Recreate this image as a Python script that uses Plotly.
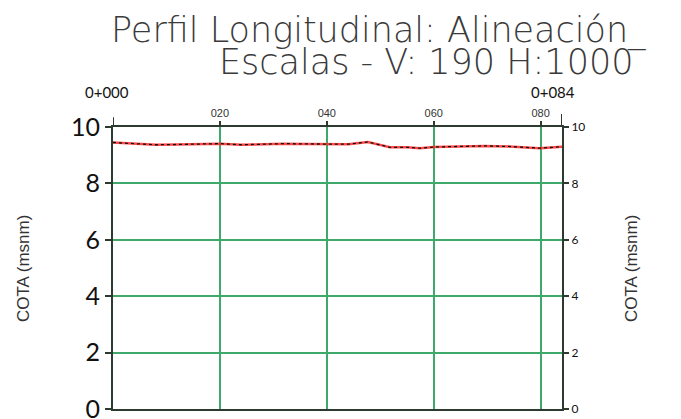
import plotly.graph_objects as go

# Data
stations = [0, 4, 8, 12, 16, 20, 24, 28, 32, 36, 40, 44, 47.7, 51.8, 55, 57.4, 60, 64, 69.5, 74, 79.8, 84]
elevations = [9.45, 9.41, 9.37, 9.38, 9.40, 9.41, 9.37, 9.39, 9.41, 9.40, 9.39, 9.39, 9.47, 9.28, 9.28, 9.25, 9.29, 9.31, 9.33, 9.31, 9.25, 9.30]

x_tick_vals = [20, 40, 60, 80]
x_tick_text = ["020", "040", "060", "080"]
y_tick_vals = [0, 2, 4, 6, 8, 10]
start_label = "0+000"
end_label = "0+084"
title_line1 = "Perfil Longitudinal: Alineación_"
title_line2 = "Escalas - V: 190 H:1000"
y_title = "COTA (msnm)"

GRID = "#3fa96c"
AXIS = "#2c3a30"

fig = go.Figure()
fig.add_trace(go.Scatter(x=stations, y=elevations, mode="lines",
                         line=dict(color="rgba(255,40,40,0.85)", width=2.5),
                         hoverinfo="skip", showlegend=False))
fig.add_trace(go.Scatter(x=stations, y=elevations, mode="lines",
                         line=dict(color="#111111", width=1.3, dash="dot"),
                         hoverinfo="skip", showlegend=False))
fig.add_trace(go.Scatter(x=stations, y=elevations, mode="lines", yaxis="y2",
                         line=dict(color="rgba(0,0,0,0)", width=0),
                         hoverinfo="skip", showlegend=False))

fig.update_layout(
    width=673, height=411,
    margin=dict(l=105, r=119, t=119, b=10, autoexpand=False),
    paper_bgcolor="white", plot_bgcolor="white",
    xaxis=dict(range=[0, 84], side="top", tickvals=x_tick_vals, ticktext=x_tick_text,
               ticks="outside", ticklen=4, tickcolor=AXIS, tickwidth=1.5, automargin=False,
               tickfont=dict(family="Liberation Sans", size=11, color="#333"),
               showgrid=True, gridcolor=GRID, gridwidth=2,
               showline=True, linecolor=AXIS, linewidth=2, mirror=True, zeroline=False),
    yaxis=dict(range=[0, 10], tickvals=y_tick_vals, automargin=False, ticklabeloverflow="allow",
               ticks="outside", ticklen=6, tickcolor=AXIS, tickwidth=1.5,
               tickfont=dict(family="Lato", size=25, color="#111"),
               showgrid=True, gridcolor=GRID, gridwidth=2,
               showline=True, linecolor=AXIS, linewidth=2, zeroline=False),
    yaxis2=dict(range=[0, 10], tickvals=y_tick_vals, overlaying="y", side="right", automargin=False,
                ticklabeloverflow="allow",
                ticks="outside", ticklen=5, tickcolor=AXIS, tickwidth=1.5,
                tickfont=dict(family="Lato", size=12, color="#111"),
                showgrid=False, showline=True, linecolor=AXIS, linewidth=2, zeroline=False),
    showlegend=False,
)

fig.add_shape(type="line", xref="x", yref="paper", x0=0, x1=0, y0=1, y1=1.035,
              line=dict(color=AXIS, width=2))
fig.add_shape(type="line", xref="x", yref="paper", x0=84, x1=84, y0=1, y1=1.046,
              line=dict(color=AXIS, width=2))

title_font = dict(family="DejaVu Sans", size=35, color="#3a3a3a", weight=200)
fig.add_annotation(text=title_line1, xref="paper", yref="paper", x=-0.009, y=1.341,
                   xanchor="left", yanchor="middle", showarrow=False, font=title_font)
fig.add_annotation(text=title_line2, xref="paper", yref="paper", x=0.698, y=1.231,
                   xanchor="center", yanchor="middle", showarrow=False, font=title_font)

lab_font = dict(family="Lato", size=15, color="#111")
fig.add_annotation(text=start_label, xref="x", yref="paper", x=0, y=1.123, xshift=-6,
                   xanchor="center", yanchor="middle", showarrow=False, font=lab_font)
fig.add_annotation(text=end_label, xref="x", yref="paper", x=84, y=1.123, xshift=-9,
                   xanchor="center", yanchor="middle", showarrow=False, font=lab_font)

ytf = dict(family="Liberation Sans", size=17, color="#333")
fig.add_annotation(text=y_title, xref="paper", yref="paper", x=(23 - 113) / 449, y=(409 - 269) / 282,
                   xanchor="center", yanchor="middle", textangle=-90, showarrow=False, font=ytf)
fig.add_annotation(text=y_title, xref="paper", yref="paper", x=(631 - 113) / 449, y=(409 - 269) / 282,
                   xanchor="center", yanchor="middle", textangle=-90, showarrow=False, font=ytf)

fig.write_html("out.html")
